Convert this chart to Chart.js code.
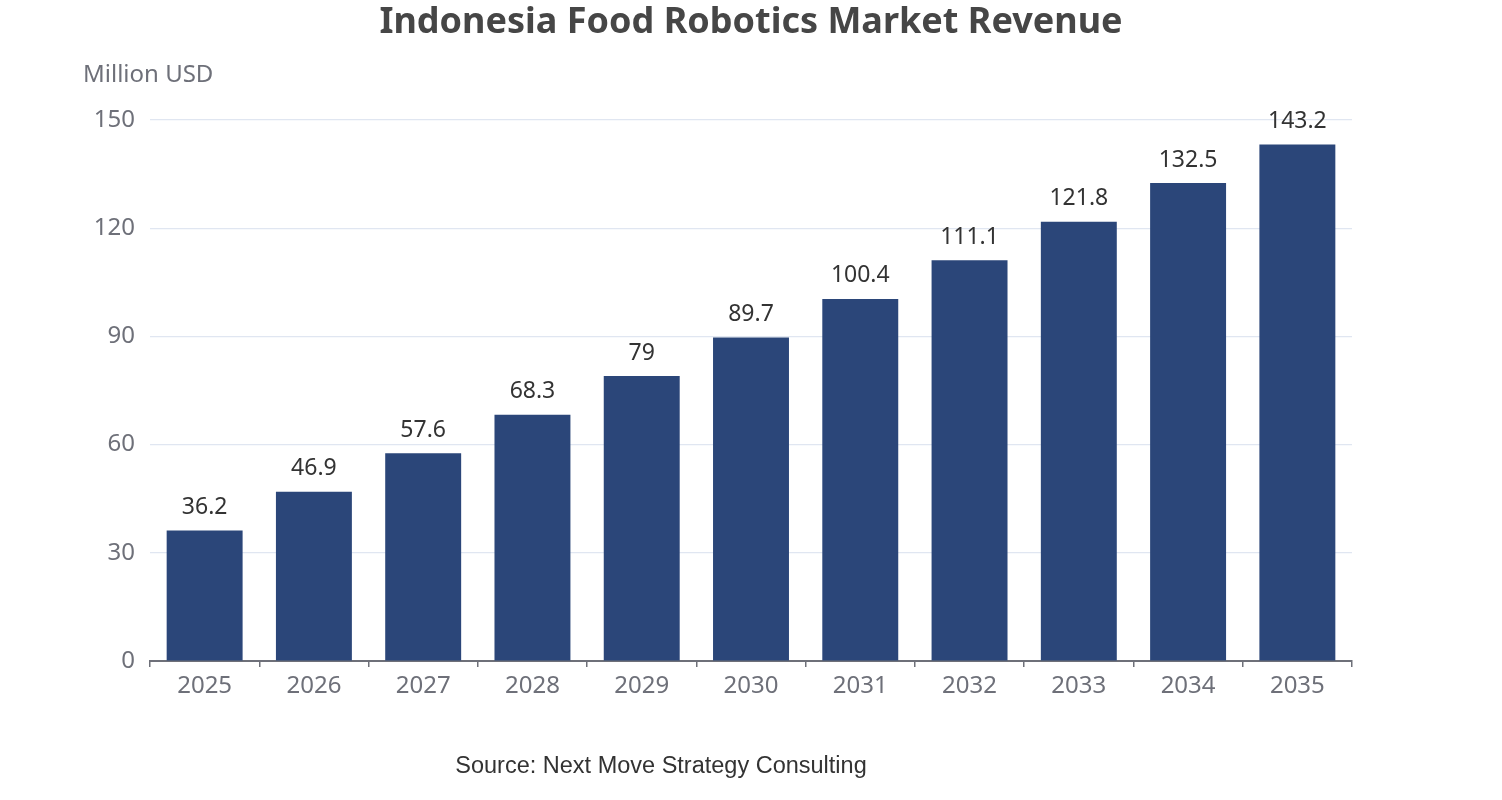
<!DOCTYPE html>
<html>
<head>
<meta charset="utf-8">
<script src="https://cdn.jsdelivr.net/npm/chart.js@4"></script>
<style>
  body { margin: 0; background: #fff; }
  #wrap { width: 1502px; height: 800px; }
</style>
</head>
<body>
<div id="wrap"><canvas id="revChart" width="1502" height="800"></canvas></div>
<script>
// data
const years = ['2025', '2026', '2027', '2028', '2029', '2030', '2031', '2032', '2033', '2034', '2035'];
const revenue = [36.2, 46.9, 57.6, 68.3, 79, 89.7, 100.4, 111.1, 121.8, 132.5, 143.2];

const titleText = 'Indonesia Food Robotics Market Revenue';
const unitText = 'Million USD';
const sourceText = 'Source: Next Move Strategy Consulting';

// text that sits outside the plot + values above bars
const textPlugin = {
  id: 'extraText',
  afterDraw(chart) {
    const ctx = chart.ctx;
    ctx.save();
    ctx.textAlign = 'center';
    ctx.textBaseline = 'middle';
    ctx.fillStyle = '#464646';
    ctx.font = 'bold 36px "Noto Sans", sans-serif';
    ctx.fillText(titleText, 751, 23);

    ctx.textAlign = 'left';
    ctx.fillStyle = '#6e7079';
    ctx.font = '24px "Noto Sans", sans-serif';
    ctx.fillText(unitText, 83, 75);

    ctx.textAlign = 'center';
    ctx.fillStyle = '#333';
    ctx.font = '23.5px "Liberation Sans", Arial, sans-serif';
    ctx.fillText(sourceText, 661, 767);

    // bar value labels
    ctx.fillStyle = '#333';
    ctx.font = '23px "Noto Sans", sans-serif';
    ctx.textBaseline = 'middle';
    const meta = chart.getDatasetMeta(0);
    meta.data.forEach((bar, i) => {
      ctx.fillText(String(revenue[i]), bar.x, bar.y - 23);
    });
    ctx.restore();
  }
};

const config = {
  type: 'bar',
  data: {
    labels: years,
    datasets: [{
      data: revenue,
      backgroundColor: '#2b4679',
      borderWidth: 0,
      barPercentage: 0.695,
      categoryPercentage: 1
    }]
  },
  options: {
    responsive: false,
    animation: false,
    layout: { padding: { top: 120, right: 150, bottom: 79, left: 0 } },
    plugins: {
      legend: { display: false },
      tooltip: { enabled: false }
    },
    scales: {
      x: {
        grid: {
          offset: true,
          drawOnChartArea: false,
          drawTicks: true,
          tickLength: 6,
          lineWidth: 1.5,
          color: '#6e7079'
        },
        border: { color: '#6e7079', width: 2 },
        ticks: {
          color: '#6e7079',
          font: { family: '"Noto Sans", sans-serif', size: 24 },
          padding: 5
        },
        afterFit(scale) { scale.height = 60; }
      },
      y: {
        min: 0,
        max: 150,
        ticks: {
          stepSize: 30,
          color: '#6e7079',
          font: { family: '"Noto Sans", sans-serif', size: 24 },
          padding: 15
        },
        grid: { color: '#e0e6f1', drawTicks: false, lineWidth: 1.2 },
        border: { display: false },
        afterFit(scale) { scale.width = 150; }
      }
    }
  },
  plugins: [textPlugin]
};

const revChart = new Chart(document.getElementById('revChart'), config);
</script>
</body>
</html>
